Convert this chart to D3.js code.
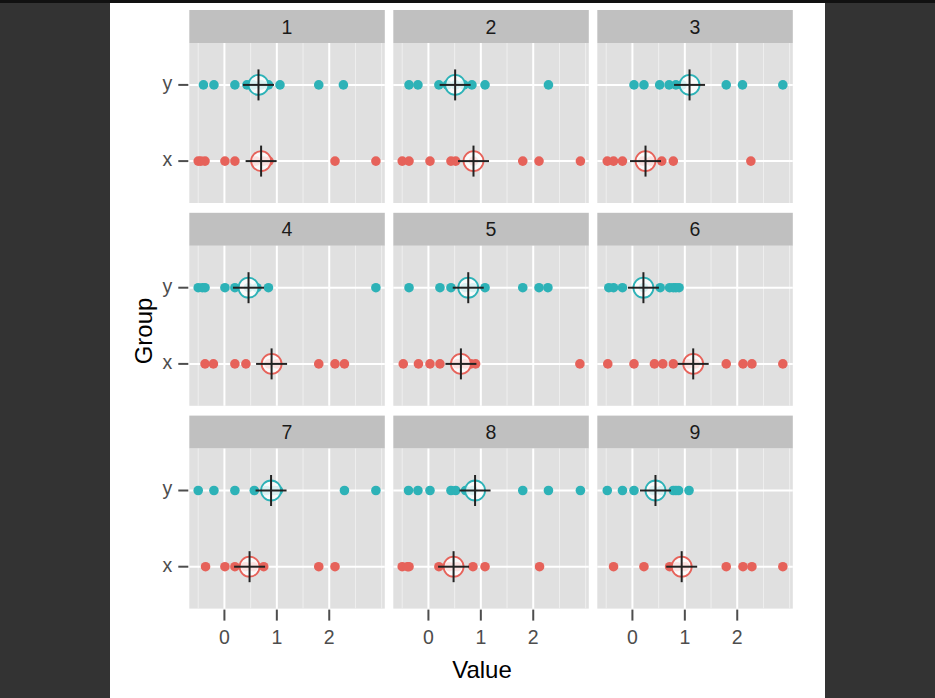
<!DOCTYPE html>
<html>
<head>
<meta charset="utf-8">
<script src="https://cdn.jsdelivr.net/npm/d3@7"></script>
<style>
body { margin: 0; background: #fff; }
svg { display: block; font-family: "Liberation Sans", Arial, sans-serif; }
</style>
</head>
<body>
<div id="canvas"></div>
<script>
const width = 935;
const height = 698;

const panels = ["1", "2", "3", "4", "5", "6", "7", "8", "9"];
const groups = ["y", "x"];
const xTicks = [0, 1, 2];
const minorTicks = [-0.5, 0.5, 1.5, 2.5, 3];

// group "x" (red) values per panel
const xValues = [
    [-0.50, -0.45, -0.37, 0.01, 0.20, 0.60, 0.75, 0.85, 2.11, 2.89],
    [-0.50, -0.37, 0.03, 0.43, 0.52, 0.86, 1.80, 2.11, 2.90],
    [-0.48, -0.36, -0.19, 0.20, 0.35, 0.56, 0.78, 2.26],
    [-0.37, -0.21, 0.20, 0.41, 0.85, 1.00, 1.80, 2.11, 2.29],
    [-0.48, -0.19, 0.03, 0.22, 0.55, 0.70, 0.81, 0.90, 2.89],
    [-0.47, 0.03, 0.42, 0.58, 0.78, 1.07, 1.20, 1.79, 2.11, 2.28, 2.87],
    [-0.36, 0.01, 0.20, 0.40, 0.55, 0.75, 1.80, 2.11],
    [-0.50, -0.40, -0.37, 0.20, 0.40, 0.55, 0.85, 1.08, 2.12],
    [-0.36, 0.22, 0.71, 0.85, 1.00, 1.79, 2.11, 2.28, 2.87]
];
// group "y" (teal) values per panel
const yValues = [
    [-0.40, -0.20, 0.20, 0.43, 0.55, 0.70, 0.84, 1.06, 1.80, 2.27],
    [-0.37, -0.20, 0.20, 0.36, 0.52, 0.68, 0.83, 1.08, 2.29],
    [0.03, 0.22, 0.52, 0.70, 0.83, 0.95, 1.79, 2.10, 2.87],
    [-0.50, -0.42, -0.37, 0.01, 0.20, 0.46, 0.62, 0.84, 2.89],
    [-0.37, 0.22, 0.43, 0.70, 0.85, 1.08, 1.80, 2.11, 2.28],
    [-0.45, -0.36, -0.19, 0.21, 0.53, 0.71, 0.78, 0.83, 0.89],
    [-0.50, -0.20, 0.20, 0.57, 0.80, 0.95, 1.03, 2.29, 2.89],
    [-0.38, -0.20, 0.03, 0.43, 0.52, 0.71, 0.85, 1.80, 2.29, 2.90],
    [-0.48, -0.19, 0.03, 0.40, 0.55, 0.78, 0.83, 0.88, 1.08]
];
// group centres (circle + cross) per panel
const xMeans = [0.70, 0.86, 0.25, 0.90, 0.62, 1.16, 0.48, 0.48, 0.94];
const yMeans = [0.65, 0.51, 1.09, 0.46, 0.76, 0.21, 0.89, 0.89, 0.44];

const colors = {x: "#e6625a", y: "#2db2b7"};

const left0 = 189.3;
const top0 = 10;
const panelW = 195.5;
const colStep = 204;
const stripH = 33;
const panelH = 160;
const rowStep = 202.8;

let svg = d3.select("#canvas")
    .append("svg")
    .attr("width", width)
    .attr("height", height);

// frame around the image
svg.append("rect").attr("x", 0).attr("y", 0).attr("width", 110).attr("height", height).style("fill", "#333");
svg.append("rect").attr("x", 825).attr("y", 0).attr("width", 110).attr("height", height).style("fill", "#333");
svg.append("rect").attr("x", 0).attr("y", 0).attr("width", width).attr("height", 3).style("fill", "#111");

let x = d3.scaleLinear().domain([-0.67, 3.06]).range([0, panelW]);
let y = d3.scalePoint().domain(groups).range([0, panelH]).padding(0.55);

panels.forEach(function(name, i){
    let col = i % 3;
    let row = Math.floor(i / 3);
    let px = left0 + col * colStep;
    let py = top0 + row * rowStep;

    let g = svg.append("g").attr("transform", `translate(${px},${py})`);

    // strip
    g.append("rect")
        .attr("width", panelW)
        .attr("height", stripH)
        .style("fill", "#c0c0c0");
    g.append("text")
        .attr("x", panelW / 2)
        .attr("y", stripH / 2 + 7)
        .attr("text-anchor", "middle")
        .style("font-size", "19.5px")
        .style("fill", "#1a1a1a")
        .text(name);

    let p = g.append("g").attr("transform", `translate(0,${stripH})`);
    p.append("rect")
        .attr("width", panelW)
        .attr("height", panelH)
        .style("fill", "#e0e0e0");

    p.selectAll(".minor")
        .data(minorTicks)
        .enter().append("line")
        .attr("x1", d => x(d)).attr("x2", d => x(d))
        .attr("y1", 0).attr("y2", panelH)
        .style("stroke", "#efefef")
        .style("stroke-width", 1);
    p.selectAll(".major")
        .data(xTicks)
        .enter().append("line")
        .attr("x1", d => x(d)).attr("x2", d => x(d))
        .attr("y1", 0).attr("y2", panelH)
        .style("stroke", "#fff")
        .style("stroke-width", 2);
    p.selectAll(".hmajor")
        .data(groups)
        .enter().append("line")
        .attr("x1", 0).attr("x2", panelW)
        .attr("y1", d => y(d)).attr("y2", d => y(d))
        .style("stroke", "#fff")
        .style("stroke-width", 2);

    let sets = {x: xValues[i], y: yValues[i]};
    let means = {x: xMeans[i], y: yMeans[i]};

    groups.forEach(function(grp){
        p.selectAll(".pt-" + grp)
            .data(sets[grp])
            .enter().append("circle")
            .attr("cx", d => x(d))
            .attr("cy", y(grp))
            .attr("r", 4.8)
            .style("fill", colors[grp]);
        p.append("circle")
            .attr("cx", x(means[grp]))
            .attr("cy", y(grp))
            .attr("r", 10)
            .style("fill", "#fff")
            .style("fill-opacity", 0.82)
            .style("stroke", colors[grp])
            .style("stroke-width", 1.8);
        p.append("line")
            .attr("x1", x(means[grp]) - 15.5).attr("x2", x(means[grp]) + 15.5)
            .attr("y1", y(grp)).attr("y2", y(grp))
            .style("stroke", "#222")
            .style("stroke-width", 2);
        p.append("line")
            .attr("x1", x(means[grp])).attr("x2", x(means[grp]))
            .attr("y1", y(grp) - 15.5).attr("y2", y(grp) + 15.5)
            .style("stroke", "#222")
            .style("stroke-width", 2);
    });

    // y axis on left column
    if(col === 0){
        let ya = p.append("g");
        groups.forEach(function(grp){
            ya.append("line")
                .attr("x1", -11).attr("x2", -1)
                .attr("y1", y(grp)).attr("y2", y(grp))
                .style("stroke", "#4d4d4d")
                .style("stroke-width", 2);
            ya.append("text")
                .attr("x", -17)
                .attr("y", y(grp) + 5)
                .attr("text-anchor", "end")
                .style("font-size", "19.5px")
                .style("fill", "#4d4d4d")
                .text(grp);
        });
    }

    // x axis on bottom row
    if(row === 2){
        let xa = p.append("g").attr("transform", `translate(0,${panelH})`);
        xTicks.forEach(function(t){
            xa.append("line")
                .attr("x1", x(t)).attr("x2", x(t))
                .attr("y1", 1).attr("y2", 12)
                .style("stroke", "#4d4d4d")
                .style("stroke-width", 2);
            xa.append("text")
                .attr("x", x(t))
                .attr("y", 35)
                .attr("text-anchor", "middle")
                .style("font-size", "19.5px")
                .style("fill", "#4d4d4d")
                .text(t);
        });
    }
});

svg.append("text")
    .attr("x", 482)
    .attr("y", 678)
    .attr("text-anchor", "middle")
    .style("font-size", "24px")
    .style("fill", "#000")
    .text("Value");

svg.append("text")
    .attr("transform", "translate(152,331) rotate(-90)")
    .attr("text-anchor", "middle")
    .style("font-size", "24px")
    .style("fill", "#000")
    .text("Group");
</script>
</body>
</html>
